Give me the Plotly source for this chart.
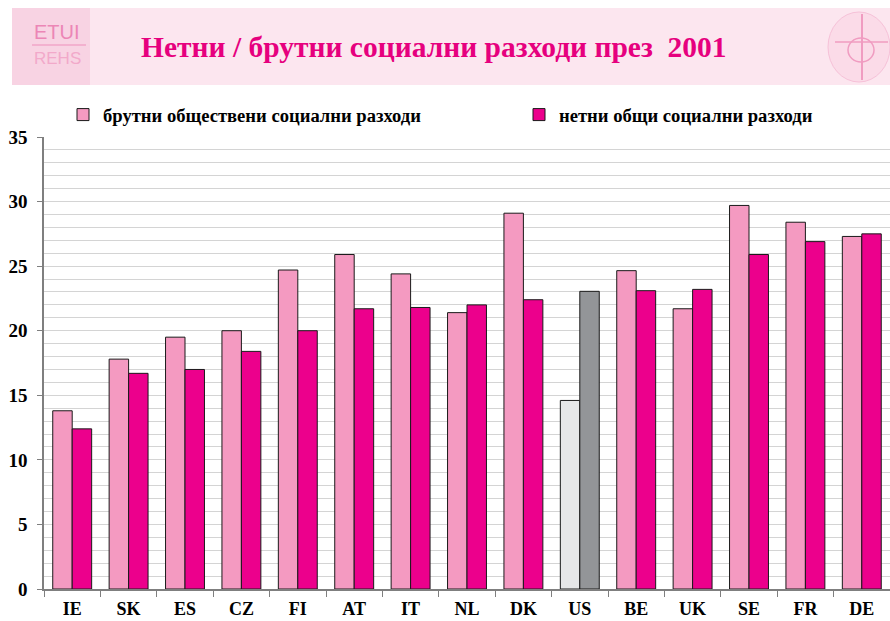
import plotly.graph_objects as go

# Social expenditure, % of GDP, 2001
countries = ["IE", "SK", "ES", "CZ", "FI", "AT", "IT", "NL", "DK", "US",
             "BE", "UK", "SE", "FR", "DE"]
gross_public = [13.8, 17.8, 19.5, 20.0, 24.7, 25.9, 24.4, 21.4, 29.1, 14.6,
                24.65, 21.7, 29.7, 28.4, 27.3]
net_total = [12.4, 16.7, 17.0, 18.4, 20.0, 21.7, 21.8, 22.0, 22.4, 23.05,
             23.1, 23.2, 25.9, 26.9, 27.5]

gross_name = "брутни обществени социални разходи"
net_name = "нетни общи социални разходи"
title_text = "Нетни / брутни социални разходи през  2001"

PINK_LIGHT = "#f49ac1"
PINK_DARK = "#ec008c"
GREY_LIGHT = "#e6e7e8"
GREY_DARK = "#939598"

gross_colors = [GREY_LIGHT if c == "US" else PINK_LIGHT for c in countries]
net_colors = [GREY_DARK if c == "US" else PINK_DARK for c in countries]

W, H = 890, 621
ML, MR, MT, MB = 44, 0, 137, 32
PW, PH = W - ML - MR, H - MT - MB


def px(x):
    return (x - ML) / PW


def py(y):
    return (H - MB - y) / PH


fig = go.Figure()
fig.add_trace(go.Bar(
    x=countries, y=gross_public, name=gross_name, legend="legend",
    marker=dict(color=gross_colors, line=dict(color="#1a1a1a", width=1)),
))
fig.add_trace(go.Bar(
    x=countries, y=net_total, name=net_name, legend="legend2",
    marker=dict(color=net_colors, line=dict(color="#1a1a1a", width=1)),
))

serif = "Liberation Serif, Times New Roman, serif"
legend_font = dict(family=serif, size=18.6, color="black", weight="bold")

shapes = [
    # header band
    dict(type="rect", xref="paper", yref="paper", layer="below",
         x0=px(12), x1=px(890), y0=py(85), y1=py(8),
         fillcolor="#fce6ef", line=dict(width=0)),
    # left logo tile
    dict(type="rect", xref="paper", yref="paper", layer="below",
         x0=px(12), x1=px(90), y0=py(85), y1=py(8),
         fillcolor="#f8d3e3", line=dict(width=0)),
    dict(type="line", xref="paper", yref="paper",
         x0=px(32), x1=px(86), y0=py(45), y1=py(45),
         line=dict(color="#f2a6c8", width=1.5)),
    # right emblem
    dict(type="circle", xref="paper", yref="paper",
         x0=px(828), x1=px(890), y0=py(82), y1=py(12),
         fillcolor="#fbdbe8", line=dict(color="#f6c1d8", width=1)),
    dict(type="line", xref="paper", yref="paper",
         x0=px(862), x1=px(862), y0=py(80), y1=py(14),
         line=dict(color="#f09cc1", width=2)),
    dict(type="line", xref="paper", yref="paper",
         x0=px(835), x1=px(888), y0=py(42), y1=py(42),
         line=dict(color="#f09cc1", width=1.5)),
    dict(type="circle", xref="paper", yref="paper",
         x0=px(848), x1=px(874), y0=py(62), y1=py(38),
         line=dict(color="#f09cc1", width=1.5)),
]

annotations = [
    dict(text="<b>" + title_text + "</b>", xref="paper", yref="paper",
         x=px(434), y=py(47), xanchor="center", yanchor="middle",
         showarrow=False, font=dict(family=serif, size=29.5, color="#e6007e")),
    dict(text="ETUI", xref="paper", yref="paper",
         x=px(57), y=py(32), xanchor="center", yanchor="middle",
         showarrow=False,
         font=dict(family="Liberation Sans, Arial, sans-serif", size=20,
                   color="#ec86b6")),
    dict(text="REHS", xref="paper", yref="paper",
         x=px(57), y=py(58), xanchor="center", yanchor="middle",
         showarrow=False,
         font=dict(family="Liberation Sans, Arial, sans-serif", size=17,
                   color="#f2a9ca")),
]

fig.update_layout(
    width=W, height=H,
    margin=dict(l=ML, r=MR, t=MT, b=MB, autoexpand=False),
    paper_bgcolor="white", plot_bgcolor="white",
    barmode="group", bargap=0.31, bargroupgap=0,
    showlegend=True,
    legend=dict(orientation="h", x=px(63), y=py(115), xanchor="left",
                yanchor="middle", itemwidth=30, font=legend_font,
                bgcolor="rgba(0,0,0,0)"),
    legend2=dict(orientation="h", x=px(519), y=py(115), xanchor="left",
                 yanchor="middle", itemwidth=30, font=legend_font,
                 bgcolor="rgba(0,0,0,0)"),
    shapes=shapes,
    annotations=annotations,
    font=dict(family=serif, color="black"),
)

fig.update_yaxes(
    range=[0, 35], dtick=5, tick0=0, automargin=False,
    showgrid=True, gridcolor="#d4d4d4", gridwidth=1,
    minor=dict(dtick=1, showgrid=True, gridcolor="#d4d4d4", gridwidth=1),
    showline=True, linecolor="#7f7f7f", linewidth=1.5,
    ticks="outside", ticklen=5, tickcolor="#7f7f7f",
    ticklabelstandoff=6,
    tickfont=dict(family=serif, size=19, color="black", weight="bold"),
    zeroline=False, fixedrange=True,
)
fig.update_xaxes(
    automargin=False,
    showline=True, linecolor="#7f7f7f", linewidth=1.5,
    ticks="outside", tickson="boundaries", ticklen=6, tickcolor="#7f7f7f",
    ticklabelstandoff=3,
    tickfont=dict(family=serif, size=18, color="black", weight="bold"),
    showgrid=False, fixedrange=True,
)

fig.write_html("out.html")
